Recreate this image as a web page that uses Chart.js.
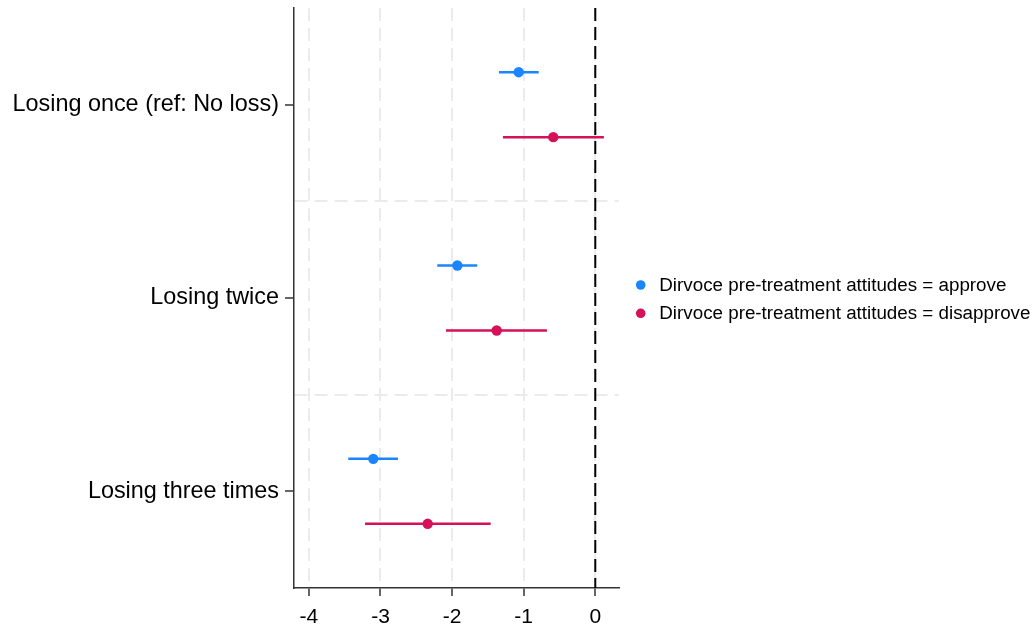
<!DOCTYPE html>
<html>
<head>
<meta charset="utf-8">
<script src="https://cdn.jsdelivr.net/npm/chart.js@4/dist/chart.umd.min.js"></script>
<style>
  html, body { margin: 0; padding: 0; background: #ffffff; }
  #wrap { width: 1036px; height: 629px; position: relative; }
</style>
</head>
<body>
<div id="wrap"><canvas id="c" width="1036" height="629"></canvas></div>
<script>
// ---- data ----
const categories = ["Losing once (ref: No loss)", "Losing twice", "Losing three times"];
const seriesNames = ["Dirvoce pre-treatment attitudes = approve", "Dirvoce pre-treatment attitudes = disapprove"];
const approveEst = [-1.070, -1.927, -3.101];
const approveLo  = [-1.345, -2.207, -3.450];
const approveHi  = [-0.790, -1.648, -2.756];
const disapproveEst = [-0.587, -1.377, -2.341];
const disapproveLo  = [-1.290, -2.085, -3.216];
const disapproveHi  = [0.120, -0.675, -1.461];
const xTicks = [-4, -3, -2, -1, 0];

// ---- styling ----
const BLUE = "#1A85FF";
const RED = "#D41159";
const FONT = "'Liberation Sans', Arial, Helvetica, sans-serif";
const OFFSET = 0.168;

const catPos = categories.map((_, i) => i + 1);
const datasets = [];

function addSeries(est, lo, hi, color, sign, name) {
  for (let i = 0; i < categories.length; i++) {
    const y = catPos[i] + sign * OFFSET;
    datasets.push({
      type: "line",
      label: name + " CI " + i,
      data: [{x: lo[i], y: y}, {x: hi[i], y: y}],
      borderColor: color,
      borderWidth: 2.5,
      pointRadius: 0,
      fill: false,
      order: 2
    });
  }
  datasets.push({
    type: "scatter",
    label: name,
    data: est.map((v, i) => ({x: v, y: catPos[i] + sign * OFFSET})),
    backgroundColor: color,
    borderColor: color,
    pointRadius: 5.2,
    pointHoverRadius: 5.2,
    borderWidth: 0,
    order: 1
  });
}
addSeries(approveEst, approveLo, approveHi, BLUE, -1, seriesNames[0]);
addSeries(disapproveEst, disapproveLo, disapproveHi, RED, 1, seriesNames[1]);

// zero reference line
datasets.push({
  type: "line",
  label: "zero",
  data: [{x: 0, y: 0.5}, {x: 0, y: 3.5}],
  borderColor: "#000000",
  borderWidth: 2,
  borderDash: [13, 6],
  pointRadius: 0,
  fill: false,
  order: 3
});

const legendPlugin = {
  id: "customLegend",
  afterDraw(chart) {
    const ctx = chart.ctx;
    const a = chart.chartArea;
    const cy = (a.top + a.bottom) / 2 + 1;
    const rows = [{c: BLUE, t: seriesNames[0], y: cy - 14}, {c: RED, t: seriesNames[1], y: cy + 14.3}];
    ctx.save();
    ctx.font = "18.8px " + FONT;
    ctx.textBaseline = "middle";
    ctx.textAlign = "left";
    rows.forEach(r => {
      ctx.beginPath();
      ctx.fillStyle = r.c;
      ctx.arc(a.right + 22, r.y, 4.8, 0, Math.PI * 2);
      ctx.fill();
      ctx.fillStyle = "#000000";
      ctx.fillText(r.t, a.right + 40.6, r.y + 0.5);
    });
    ctx.restore();
  }
};

new Chart(document.getElementById("c"), {
  data: { datasets: datasets },
  plugins: [legendPlugin],
  options: {
    responsive: false,
    animation: false,
    events: [],
    layout: { padding: { top: 8, right: 417.3, left: 0, bottom: 0 } },
    plugins: { legend: { display: false }, tooltip: { enabled: false } },
    scales: {
      x: {
        type: "linear",
        min: -4.208,
        max: 0.327,
        afterBuildTicks: s => { s.ticks = xTicks.map(v => ({value: v})); },
        afterFit: s => { s.height = 41; s.paddingLeft = 0; s.paddingRight = 0; },
        ticks: {
          autoSkip: false,
          color: "#000000",
          padding: 9,
          font: { family: FONT, size: 21 },
          callback: v => String(v)
        },
        grid: {
          color: "#ebebeb",
          lineWidth: 2,
          tickColor: "#333333",
          tickWidth: 1.5,
          tickLength: 8
        },
        border: { color: "#333333", width: 1.5, dash: [13, 7] }
      },
      y: {
        type: "linear",
        min: 0.5,
        max: 3.5,
        reverse: true,
        afterBuildTicks: s => { s.ticks = [1, 1.5, 2, 2.5, 3].map(v => ({value: v})); },
        afterFit: s => { s.width = 294; s.paddingTop = 0; s.paddingBottom = 0; },
        ticks: {
          autoSkip: false,
          color: "#000000",
          padding: 6,
          font: { family: FONT, size: 23.4 },
          callback: v => Number.isInteger(v) ? categories[v - 1] : ""
        },
        grid: {
          color: ctx => (ctx.tick && Number.isInteger(ctx.tick.value)) ? "rgba(0,0,0,0)" : "#ebebeb",
          lineWidth: 2,
          tickColor: ctx => (ctx.tick && Number.isInteger(ctx.tick.value)) ? "#333333" : "rgba(0,0,0,0)",
          tickWidth: 1.5,
          tickLength: 9
        },
        border: { color: "#333333", width: 1.5, dash: [13, 7] }
      }
    }
  }
});
</script>
</body>
</html>
